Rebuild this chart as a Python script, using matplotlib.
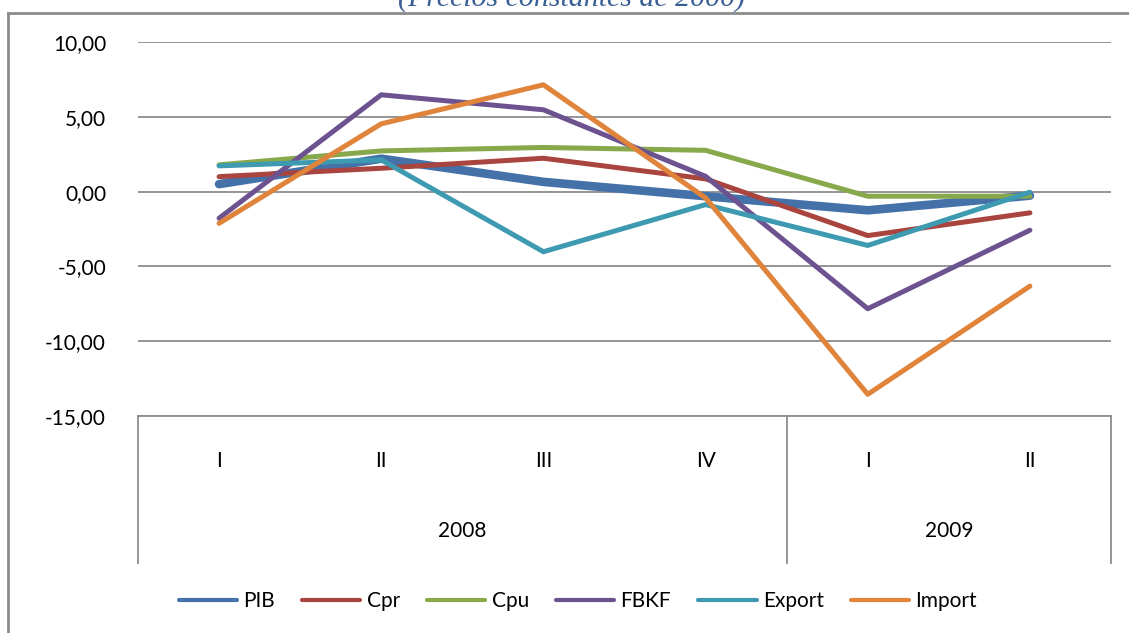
import matplotlib
matplotlib.use("Agg")
import matplotlib.pyplot as plt
from matplotlib.lines import Line2D
from matplotlib.ticker import FuncFormatter

quarters = ["I", "II", "III", "IV", "I", "II"]
years = ["2008", "2009"]
year_spans = [(0, 3), (4, 5)]

series_names = ["PIB", "Cpr", "Cpu", "FBKF", "Export", "Import"]
pib = [0.50, 2.20, 0.65, -0.31, -1.25, -0.27]
cpr = [1.00, 1.56, 2.23, 0.85, -2.94, -1.42]
cpu = [1.79, 2.72, 2.95, 2.76, -0.31, -0.31]
fbkf = [-1.78, 6.47, 5.47, 1.02, -7.83, -2.58]
export = [1.72, 2.12, -4.02, -0.87, -3.60, -0.04]
imports = [-2.12, 4.53, 7.14, -0.42, -13.55, -6.32]
values = [pib, cpr, cpu, fbkf, export, imports]

colors = ["#4571A9", "#A9443F", "#87A84B", "#6C5390", "#3D9AB1", "#DF843A"]
widths = [6.2, 3.6, 3.6, 3.6, 3.6, 3.6]

W, H = 1129, 633
fig = plt.figure(figsize=(W / 100, H / 100), dpi=100)
plt.rcParams['font.family'] = ['Lato', 'DejaVu Sans']

x0, x1 = 138, 1111
ytop, ybot = 42, 416
ax = fig.add_axes([x0 / W, 1 - ybot / H, (x1 - x0) / W, (ybot - ytop) / H])
ax.set_xlim(-0.5, 5.5)
ax.set_ylim(-15, 10)
ax.set_yticks([-15, -10, -5, 0, 5, 10])
ax.yaxis.set_major_formatter(FuncFormatter(lambda v, p: f"{v:.2f}".replace(".", ",")))
ax.tick_params(axis='y', length=0, pad=23, labelsize=15, labelcolor='#000000')
ax.set_xticks([])
for s in ax.spines.values():
    s.set_visible(False)
ax.grid(axis='y', color='#8C8C8C', linewidth=1.3)
ax.set_axisbelow(True)

xs = list(range(len(quarters)))
for name, vals, c, lw in zip(series_names, values, colors, widths):
    ax.plot(xs, vals, color=c, linewidth=lw, solid_capstyle='round',
            solid_joinstyle='round', label=name, zorder=3)

# category axis box
gc = '#8C8C8C'
box_bottom = 563
def fy(py):
    return 1 - py / H
def fx(px):
    return px / W
fig.add_artist(Line2D([fx(x0), fx(x1)], [fy(ybot), fy(ybot)], color=gc, lw=1.3))
sep = x0 + (x1 - x0) * (4 / 6)
for px in [x0, sep, x1]:
    fig.add_artist(Line2D([fx(px), fx(px)], [fy(ybot), fy(box_bottom)], color=gc, lw=1.3))

for i, q in enumerate(quarters):
    px = x0 + (x1 - x0) * (i + 0.5) / 6
    fig.text(fx(px), fy(461), q, ha='center', va='center', fontsize=15)
for (a, b), yr in zip(year_spans, years):
    px = x0 + (x1 - x0) * ((a + b) / 2 + 0.5) / 6
    fig.text(fx(px), fy(531), yr, ha='center', va='center', fontsize=15)

# outer chart border (left and top)
bc = '#8C8C8C'
fig.add_artist(Line2D([fx(8), fx(8)], [fy(13), 0], color=bc, lw=2))
fig.add_artist(Line2D([fx(8), 1], [fy(13), fy(13)], color=bc, lw=2))

# title (partially cut off at the top, as in the reference)
fig.text(fx(572), fy(6), "(Precios constantes de 2000)", ha='center', va='baseline',
         fontsize=21.5, style='italic', family=['Liberation Serif', 'DejaVu Serif'],
         color='#3A5F95')

handles = [Line2D([], [], color=c, lw=3.0, solid_capstyle='round') for c in colors]
fig.legend(handles, series_names, loc='center', bbox_to_anchor=(fx(578), fy(601)),
           ncol=6, frameon=False, fontsize=15, handlelength=2.8, handletextpad=0.3,
           columnspacing=1.3)

fig.savefig("out.png", dpi=100)
